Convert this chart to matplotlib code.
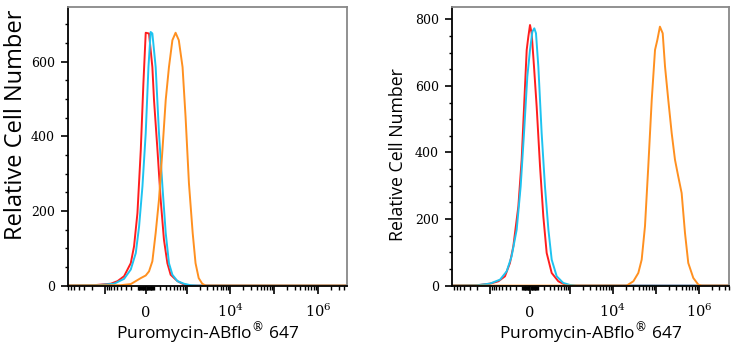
import numpy as np
import matplotlib
matplotlib.use("Agg")
import matplotlib.pyplot as plt
from matplotlib.ticker import FixedLocator, FixedFormatter

plt.rcParams['mathtext.fontset'] = 'dejavuserif'

# biexponential-like display: arcsinh with this cofactor
COF = 236.0

# ---- left panel (fluorescence, cell count) ----
red_l_x = [-10000, -1800, -717, -490, -330, -205, -154, -106, -62, -29, 0, 41, 84, 106, 155, 205, 262, 330, 405, 600, 860, 1232, 1e7]
red_l_y = [0, 1, 5, 12, 25, 60, 105, 194, 363, 541, 677, 675, 585, 497, 363, 230, 123, 60, 29, 12, 3, 0, 0]

cyan_l_x = [-10000, -1480, -600, -330, -205, -129, -84, -41, 0, 34, 62, 84, 129, 178, 235, 296, 365, 450, 600, 860, 1232, 1800, 1e7]
cyan_l_y = [0, 1, 5, 18, 43, 87, 158, 265, 408, 585, 679, 675, 585, 408, 265, 141, 60, 29, 12, 5, 1, 0, 0]

orange_l_x = [-10000, -405, -205, -129, -62, 0, 41, 84, 129, 178, 235, 296, 365, 450, 542, 650, 800, 942, 1130, 1380, 1607, 1900, 2290, 2750, 1e7]
orange_l_y = [0, 1, 4, 12, 20, 27, 38, 65, 141, 230, 363, 497, 585, 657, 677, 657, 585, 452, 274, 141, 60, 20, 5, 0, 0]

# ---- right panel ----
red_r_x = [-10000, -2040, -990, -620, -420, -305, -240, -157, -109, -64, -42, -21, 0, 21, 51, 86, 133, 183, 240, 340, 512, 750, 990, 1e7]
red_r_y = [0, 1, 6, 13, 28, 68, 118, 238, 378, 598, 708, 748, 783, 758, 658, 538, 358, 208, 98, 38, 13, 3, 0, 0]

cyan_r_x = [-10000, -2040, -990, -562, -377, -272, -183, -123, -77, -34, 0, 30, 55, 77, 109, 157, 210, 272, 340, 465, 680, 990, 1430, 1e7]
cyan_r_y = [0, 1, 6, 18, 43, 88, 168, 298, 458, 628, 708, 763, 773, 758, 658, 458, 298, 168, 78, 28, 8, 2, 0, 0]

orange_r_x = [-10000, 20900, 29900, 39000, 46700, 55700, 66500, 80000, 95400, 108000, 124000, 144000, 163000, 194000, 233000, 278000, 331000, 397000, 475000, 566000, 741000, 968000, 1160000, 1e7]
orange_r_y = [0, 0, 13, 38, 78, 178, 358, 558, 708, 738, 778, 758, 658, 558, 458, 378, 328, 278, 158, 68, 23, 3, 0, 0]

panels = [
    dict(rect=[0.092, 0.183, 0.3775, 0.796], xlim=(-7000, 4.6e6), ylim=(-1, 745),
         yticks=[0, 200, 400, 600], ylab_size=17, ylab_xy=(-0.145, 0.577),
         curves=[(red_l_x, red_l_y), (cyan_l_x, cyan_l_y), (orange_l_x, orange_l_y)]),
    dict(rect=[0.6116, 0.183, 0.3748, 0.796], xlim=(-7700, 5.0e6), ylim=(-1, 836),
         yticks=[0, 200, 400, 600, 800], ylab_size=12.8, ylab_xy=(-0.163, 0.47),
         curves=[(red_r_x, red_r_y), (cyan_r_x, cyan_r_y), (orange_r_x, orange_r_y)]),
]
colors = ['#ff1e1e', '#1ec3f0', '#ff9020']

x_major = [-1000, 0, 1000, 1e4, 1e5, 1e6]
x_major_lab = ['', '0', '', r'$10^4$', '', r'$10^6$']
x_minor = []
for p in range(1, 7):
    for k in range(1, 10):
        v = k * 10 ** p
        if v not in x_major:
            x_minor.append(v)
            if v < 8000:
                x_minor.append(-v)


def fwd(x):
    return np.arcsinh(np.asarray(x) / COF)


def inv(y):
    return COF * np.sinh(np.asarray(y))


fig = plt.figure(figsize=(7.39, 3.5), dpi=100)

for p in panels:
    ax = fig.add_axes(p['rect'])
    for (xs, ys), c in zip(p['curves'], colors):
        ax.plot(xs, ys, color=c, lw=1.4)
    ax.set_xscale('function', functions=(fwd, inv))
    ax.set_xlim(*p['xlim'])
    ax.set_ylim(*p['ylim'])

    ax.xaxis.set_major_locator(FixedLocator(x_major))
    ax.xaxis.set_major_formatter(FixedFormatter(x_major_lab))
    ax.xaxis.set_minor_locator(FixedLocator(x_minor))
    ax.set_yticks(p['yticks'])
    ax.set_yticks(np.arange(0, p['ylim'][1], 50), minor=True)

    ax.tick_params(axis='x', which='major', length=6, width=1.2, pad=16,
                   labelsize=10.5, labelfontfamily='DejaVu Serif')
    ax.tick_params(axis='x', which='minor', length=3, width=1.0)
    ax.tick_params(axis='y', which='major', length=5, width=1.2, pad=4.5,
                   labelsize=9, labelfontfamily='DejaVu Serif')
    ax.tick_params(axis='y', which='minor', length=2.5, width=1.0)
    for t in ax.xaxis.get_major_ticks():
        t.label1.set_va('baseline')

    for s in ['top', 'right']:
        ax.spines[s].set_color('#888888')
        ax.spines[s].set_linewidth(1.3)
    for s in ['left', 'bottom']:
        ax.spines[s].set_linewidth(1.3)

    ax.set_ylabel('Relative Cell Number', fontsize=p['ylab_size'], family='Open Sans')
    ax.yaxis.set_label_coords(*p['ylab_xy'])
    ax.set_xlabel('Puromycin-ABflo$^{®}$ 647', fontsize=12.5, family='Open Sans')
    ax.xaxis.set_label_coords(0.5, -0.122)

fig.savefig('out.png', dpi=100)
